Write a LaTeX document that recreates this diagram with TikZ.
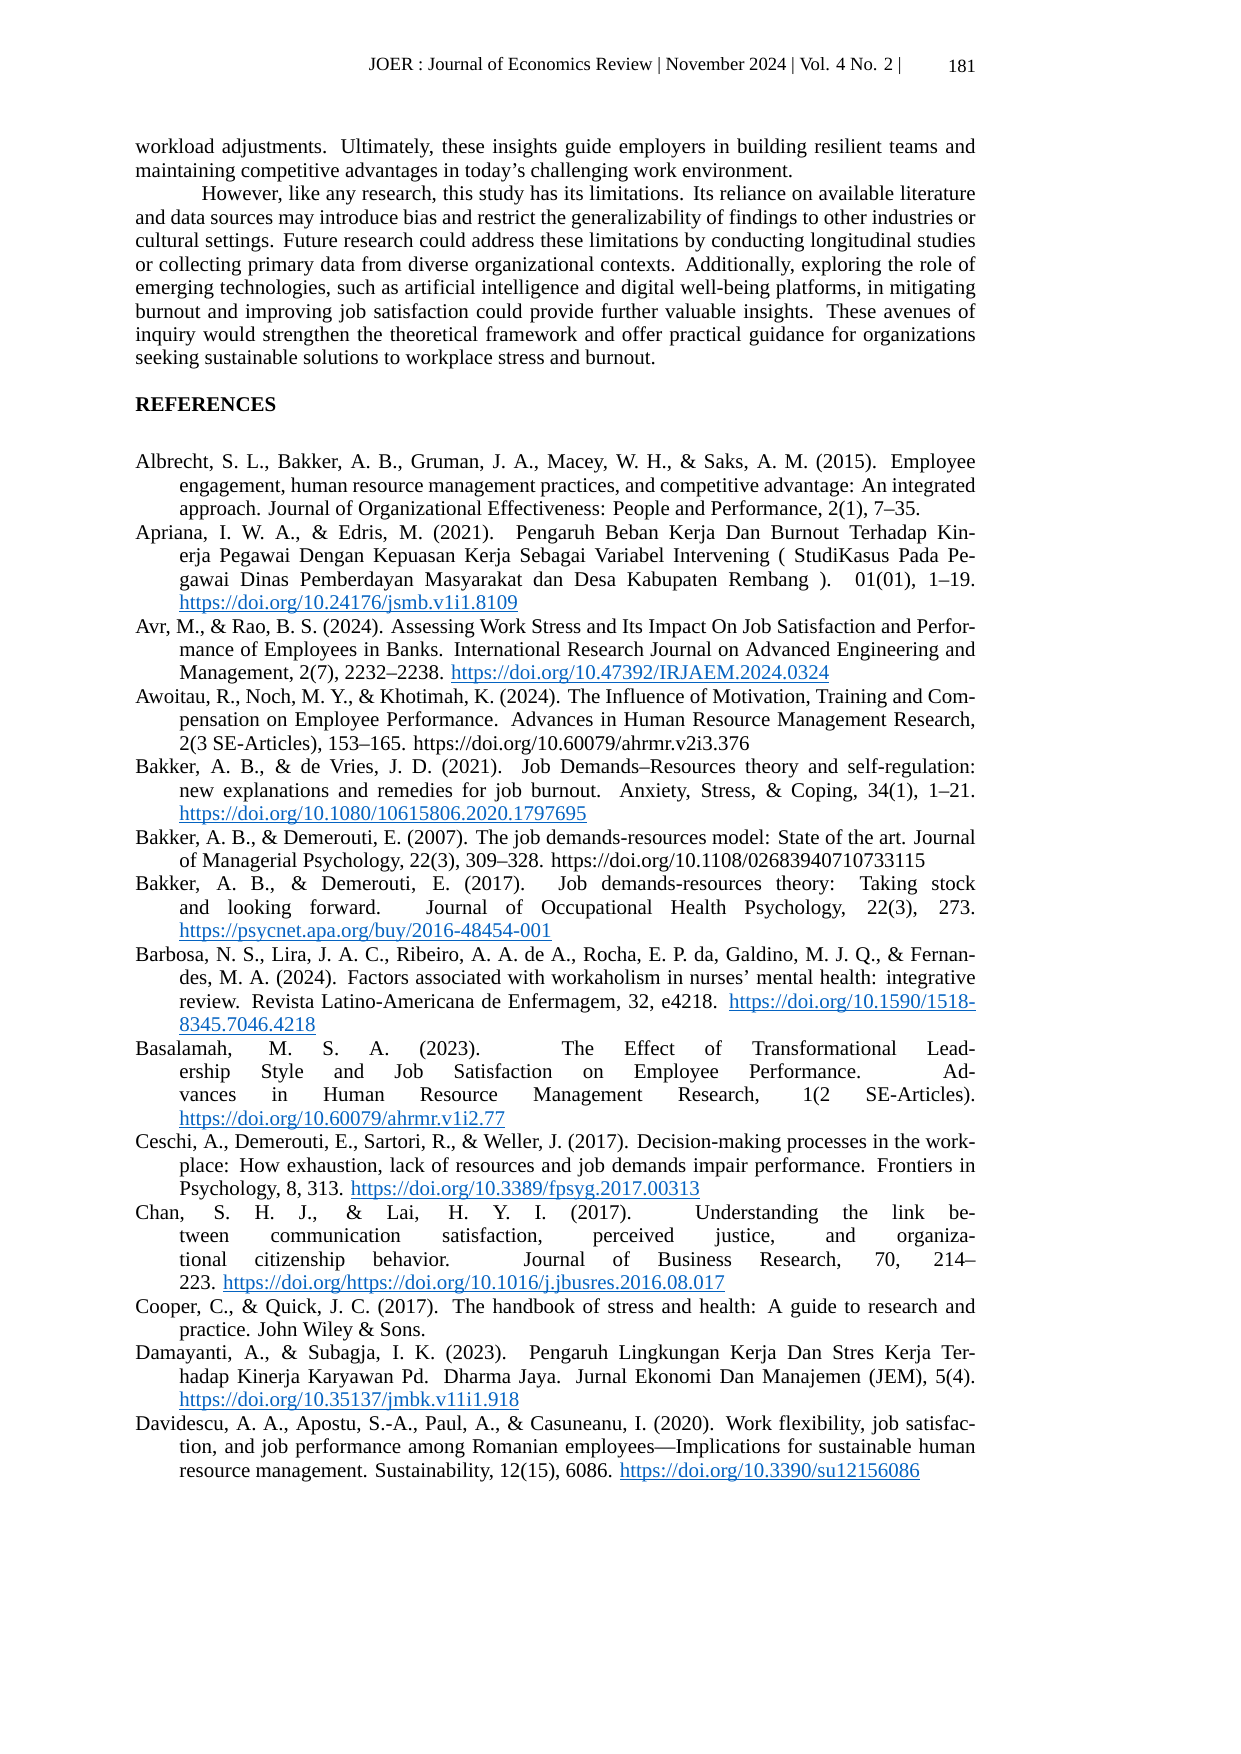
\documentclass[tikz,border=0pt]{standalone}
\usepackage{fontspec}
\setmainfont{Liberation Serif}
\usepackage{tikz}
\definecolor{linkblue}{RGB}{5,99,193}
\newcommand{\lnk}[1]{{\color{linkblue}\setbox0\hbox{#1}\rlap{\rule[-1.3pt]{\wd0}{0.4pt}}\box0}}
\newcommand{\rf}{\par\noindent\hangindent=0.745cm\hangafter=1 }
\tikzset{
  body/.style={anchor=north west,inner sep=0pt,text width=14.23cm,align=justify,
    font=\fontsize{10.1}{11.3}\selectfont},
  head/.style={inner sep=0pt,font=\fontsize{9}{11}\selectfont}
}
\begin{document}
\begin{tikzpicture}[x=0.016935cm,y=-0.016935cm]
  \useasboundingbox (0,0) rectangle (1240,1754);
  \node[head,anchor=east] (hdr) at (902,66) {JOER : Journal of Economics Review | November 2024 | Vol. 4 No. 2 |};
  \node[head] (pg) at (962,66) {181};
  % closing paragraphs
  \node[body] (txt) at (135,139) {\noindent workload adjustments. Ultimately, these insights guide employers in building resilient teams and maintaining competitive advantages in today’s challenging work environment.\par
    \noindent\hspace*{1.12cm}However, like any research, this study has its limitations. Its reliance on available literature and data sources may introduce bias and restrict the generalizability of findings to other industries or cultural settings. Future research could address these limitations by conducting longitudinal studies or collecting primary data from diverse organizational contexts. Additionally, exploring the role of emerging technologies, such as artificial intelligence and digital well-being platforms, in mitigating burnout and improving job satisfaction could provide further valuable insights. These avenues of inquiry would strengthen the theoretical framework and offer practical guidance for organizations seeking sustainable solutions to workplace stress and burnout.};
  \node[body] (refhd) at (135,397) {\textbf{REFERENCES}};
  % reference list
  \node[body] (refs) at (135,445) {%
    \rf Albrecht, S. L., Bakker, A. B., Gruman, J. A., Macey, W. H., \& Saks, A. M. (2015). Employee engagement, human resource management practices, and competitive advantage: An integrated approach. Journal of Organizational Effectiveness: People and Performance, 2(1), 7–35.
    \rf Apriana, I. W. A., \& Edris, M. (2021). Pengaruh Beban Kerja Dan Burnout Terhadap Kinerja Pegawai Dengan Kepuasan Kerja Sebagai Variabel Intervening ( StudiKasus Pada Pegawai Dinas Pemberdayan Masyarakat dan Desa Kabupaten Rembang ). 01(01), 1–19.\linebreak \lnk{https://doi.org/10.24176/jsmb.v1i1.8109}
    \rf Avr, M., \& Rao, B. S. (2024). Assessing Work Stress and Its Impact On Job Satisfaction and Performance of Employees in Banks. International Research Journal on Advanced Engineering and Management, 2(7), 2232–2238. \lnk{https://doi.org/10.47392/IRJAEM.2024.0324}
    \rf Awoitau, R., Noch, M. Y., \& Khotimah, K. (2024). The Influence of Motivation, Training and Compensation on Employee Performance. Advances in Human Resource Management Research, 2(3 SE-Articles), 153–165. https://doi.org/10.60079/ahrmr.v2i3.376
    \rf Bakker, A. B., \& de Vries, J. D. (2021). Job Demands–Resources theory and self-regulation: new explanations and remedies for job burnout. Anxiety, Stress, \& Coping, 34(1), 1–21.\linebreak \lnk{https://doi.org/10.1080/10615806.2020.1797695}
    \rf Bakker, A. B., \& Demerouti, E. (2007). The job demands-resources model: State of the art. Journal of Managerial Psychology, 22(3), 309–328. https://doi.org/10.1108/02683940710733115
    \rf Bakker, A. B., \& Demerouti, E. (2017). Job demands-resources theory: Taking stock and looking forward. Journal of Occupational Health Psychology, 22(3), 273.\linebreak \lnk{https://psycnet.apa.org/buy/2016-48454-001}
    \rf Barbosa, N. S., Lira, J. A. C., Ribeiro, A. A. de A., Rocha, E. P. da, Galdino, M. J. Q., \& Fernandes, M. A. (2024). Factors associated with workaholism in nurses’ mental health: integrative review. Revista Latino-Americana de Enfermagem, 32, e4218. \lnk{https://doi.org/10.1590/1518-}\linebreak \lnk{8345.7046.4218}
    \rf Basalamah, M. S. A. (2023). The Effect of Transformational Leadership Style and Job Satisfaction on Employee Performance. Advances in Human Resource Management Research, 1(2 SE-Articles).\linebreak \lnk{https://doi.org/10.60079/ahrmr.v1i2.77}
    \rf Ceschi, A., Demerouti, E., Sartori, R., \& Weller, J. (2017). Decision-making processes in the workplace: How exhaustion, lack of resources and job demands impair performance. Frontiers in Psychology, 8, 313. \lnk{https://doi.org/10.3389/fpsyg.2017.00313}
    \rf Chan, S. H. J., \& Lai, H. Y. I. (2017). Understanding the link between communication satisfaction, perceived justice, and organizational citizenship behavior. Journal of Business Research, 70, 214–\linebreak 223. \lnk{https://doi.org/https://doi.org/10.1016/j.jbusres.2016.08.017}
    \rf Cooper, C., \& Quick, J. C. (2017). The handbook of stress and health: A guide to research and practice. John Wiley \& Sons.
    \rf Damayanti, A., \& Subagja, I. K. (2023). Pengaruh Lingkungan Kerja Dan Stres Kerja Terhadap Kinerja Karyawan Pd. Dharma Jaya. Jurnal Ekonomi Dan Manajemen (JEM), 5(4).\linebreak \lnk{https://doi.org/10.35137/jmbk.v11i1.918}
    \rf Davidescu, A. A., Apostu, S.-A., Paul, A., \& Casuneanu, I. (2020). Work flexibility, job satisfaction, and job performance among Romanian employees—Implications for sustainable human resource management. Sustainability, 12(15), 6086. \lnk{https://doi.org/10.3390/su12156086}\par};
\end{tikzpicture}
\end{document}
